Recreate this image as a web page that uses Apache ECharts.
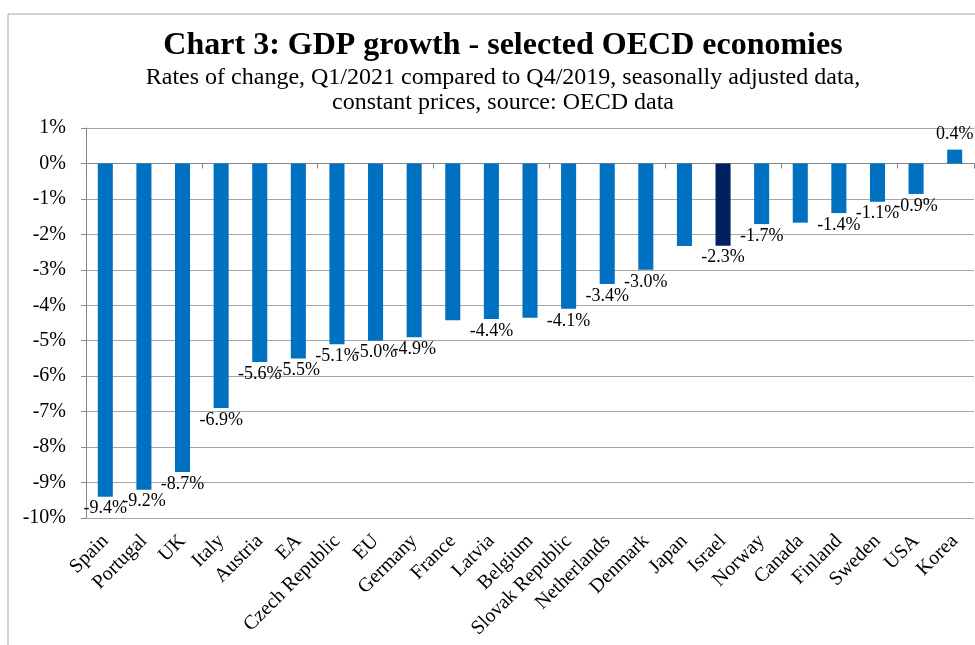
<!DOCTYPE html>
<html>
<head>
<meta charset="utf-8">
<script src="https://cdn.jsdelivr.net/npm/echarts@6/dist/echarts.min.js"></script>
<style>
  html, body { margin: 0; padding: 0; background: #fff; }
  #chart { width: 975px; height: 645px; }
</style>
</head>
<body>
<div id="chart"></div>
<script>
const countries = ['Spain', 'Portugal', 'UK', 'Italy', 'Austria', 'EA', 'Czech Republic', 'EU',
  'Germany', 'France', 'Latvia', 'Belgium', 'Slovak Republic', 'Netherlands', 'Denmark', 'Japan',
  'Israel', 'Norway', 'Canada', 'Finland', 'Sweden', 'USA', 'Korea'];
const growth = [-9.4, -9.2, -8.7, -6.9, -5.6, -5.5, -5.1, -5.0,
  -4.9, -4.42, -4.39, -4.35, -4.1, -3.4, -3.0, -2.33,
  -2.32, -1.71, -1.67, -1.4, -1.08, -0.86, 0.39];
// bars drawn without a value label in the original
const unlabeled = ['France', 'Belgium', 'Japan', 'Canada'];
const highlight = 'Israel';
const yTicks = [1, 0, -1, -2, -3, -4, -5, -6, -7, -8, -9, -10];

const serif = '"Liberation Serif", "Times New Roman", serif';

const chart = echarts.init(document.getElementById('chart'));

const barData = countries.map(function (name, i) {
  const v = growth[i];
  return {
    value: v,
    itemStyle: { color: name === highlight ? '#002060' : '#0070C0' },
    label: {
      show: unlabeled.indexOf(name) < 0,
      position: v < 0 ? 'bottom' : 'top',
      distance: v < 0 ? 3 : 6
    }
  };
});

const option = {
  animation: false,
  backgroundColor: '#fff',
  title: [
    {
      text: 'Chart 3: GDP growth - selected OECD economies',
      left: 498,
      top: 25,
      textAlign: 'center',
      textStyle: { fontFamily: serif, fontSize: 32, fontWeight: 'bold', color: '#000' }
    },
    {
      text: 'Rates of change, Q1/2021 compared to Q4/2019, seasonally adjusted data,\nconstant prices, source: OECD data',
      left: 498,
      top: 60,
      textAlign: 'center',
      textStyle: { fontFamily: serif, fontSize: 24, fontWeight: 'normal', color: '#000', lineHeight: 25 }
    }
  ],
  graphic: [
    {
      type: 'rect',
      shape: { x: 8, y: 14, width: 1000, height: 700 },
      style: { fill: 'none', stroke: '#A6A6A6', lineWidth: 1 },
      silent: true
    }
  ],
  grid: { left: 86, right: 1, top: 128, bottom: 127 },
  xAxis: [
    {
      type: 'category',
      data: countries,
      axisLine: { onZero: true, lineStyle: { color: '#868686' } },
      axisTick: { show: true, length: 5, lineStyle: { color: '#868686' } },
      axisLabel: { show: false }
    },
    {
      type: 'category',
      data: countries,
      position: 'bottom',
      axisLine: { show: false, onZero: false },
      axisTick: { show: false },
      axisLabel: {
        rotate: 45,
        margin: 20,
        interval: 0,
        fontFamily: serif,
        fontSize: 20,
        color: '#000'
      }
    }
  ],
  yAxis: {
    type: 'value',
    min: -10,
    max: 1,
    interval: 1,
    axisLine: { show: true, lineStyle: { color: '#868686' } },
    axisTick: { show: true, length: 5, lineStyle: { color: '#868686' } },
    splitLine: { lineStyle: { color: '#A6A6A6' } },
    axisLabel: {
      margin: 20,
      fontFamily: serif,
      fontSize: 20,
      color: '#000',
      formatter: function (v) {
        return yTicks.indexOf(v) >= 0 ? v + '%' : '';
      }
    }
  },
  series: [
    {
      type: 'bar',
      xAxisIndex: 0,
      barWidth: '39%',
      data: barData,
      label: {
        fontFamily: serif,
        fontSize: 18,
        color: '#000',
        formatter: function (p) {
          return p.value.toFixed(1) + '%';
        }
      }
    }
  ]
};

chart.setOption(option);
</script>
</body>
</html>
